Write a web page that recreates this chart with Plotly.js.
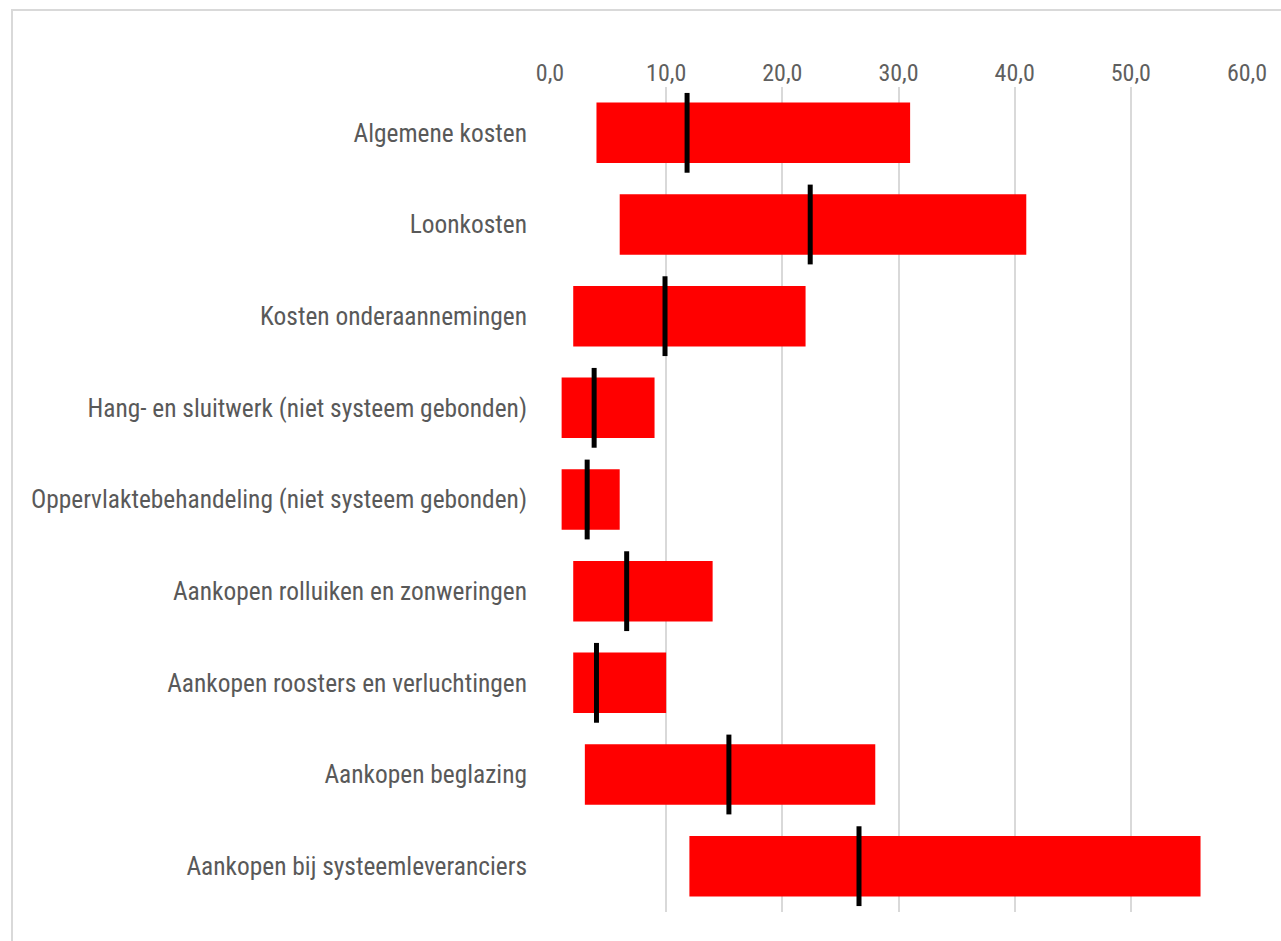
<!DOCTYPE html>
<html>
<head>
<meta charset="utf-8">
<script src="https://cdn.plot.ly/plotly-3.0.1.min.js"></script>
<style>
  html, body { margin: 0; padding: 0; background: #ffffff; }
  #frame { position: absolute; left: 11px; top: 9px; width: 1300px; height: 960px; border: 2px solid #d9d9d9; pointer-events: none; }
  #chart { position: absolute; left: 0; top: 0; width: 1281px; height: 941px; }
</style>
</head>
<body>
<div id="frame"></div>
<div id="chart"></div>
<script>
const categories = [
  "Algemene kosten",
  "Loonkosten",
  "Kosten onderaannemingen",
  "Hang- en sluitwerk (niet systeem gebonden)",
  "Oppervlaktebehandeling (niet systeem gebonden)",
  "Aankopen rolluiken en zonweringen",
  "Aankopen roosters en verluchtingen",
  "Aankopen beglazing",
  "Aankopen bij systeemleveranciers"
];
const minValues = [4.0, 6.0, 2.0, 1.0, 1.0, 2.0, 2.0, 3.0, 12.0];
const maxValues = [31.0, 41.0, 22.0, 9.0, 6.0, 14.0, 10.0, 28.0, 56.0];
const midValues = [11.8, 22.4, 9.9, 3.8, 3.2, 6.6, 4.0, 15.4, 26.6];
const tickValues = [0, 10, 20, 30, 40, 50, 60];
const tickLabels = ["0,0", "10,0", "20,0", "30,0", "40,0", "50,0", "60,0"];

const FONT = "'Liberation Sans Narrow', 'Arial Narrow', 'Roboto Condensed', 'Liberation Sans', sans-serif";

const rangeBar = {
  type: 'bar',
  orientation: 'h',
  y: categories,
  base: minValues,
  x: maxValues.map((v, i) => v - minValues[i]),
  width: 0.66,
  marker: { color: '#ff0000', line: { width: 0 } },
  hoverinfo: 'skip',
  showlegend: false
};

const midMarks = {
  type: 'scatter',
  mode: 'markers',
  y: categories,
  x: midValues,
  marker: { symbol: 'line-ns', size: 57, color: '#000000', line: { color: '#000000', width: 5 } },
  showlegend: false,
  cliponaxis: false
};

const layout = {
  width: 1281,
  height: 941,
  margin: { l: 550, r: 34, t: 87, b: 29 },
  paper_bgcolor: 'rgba(0,0,0,0)',
  plot_bgcolor: 'rgba(0,0,0,0)',
  showlegend: false,
  font: { family: FONT, color: '#595959', size: 25 },
  xaxis: {
    side: 'top',
    range: [0, 60],
    tickvals: tickValues,
    ticktext: tickLabels,
    showgrid: true,
    gridcolor: '#d9d9d9',
    gridwidth: 2,
    zeroline: false,
    showline: false,
    ticks: '',
    ticklabelstandoff: 0,
    tickfont: { family: FONT, color: '#5f5f5f', size: 24 }
  },
  yaxis: {
    type: 'category',
    range: [8.5, -0.5],
    showgrid: false,
    zeroline: false,
    showline: false,
    ticks: '',
    ticklabelstandoff: 22,
    tickfont: { family: FONT, color: '#595959', size: 25.4 }
  }
};

Plotly.newPlot('chart', [rangeBar, midMarks], layout, { displayModeBar: false, staticPlot: true });
</script>
</body>
</html>
